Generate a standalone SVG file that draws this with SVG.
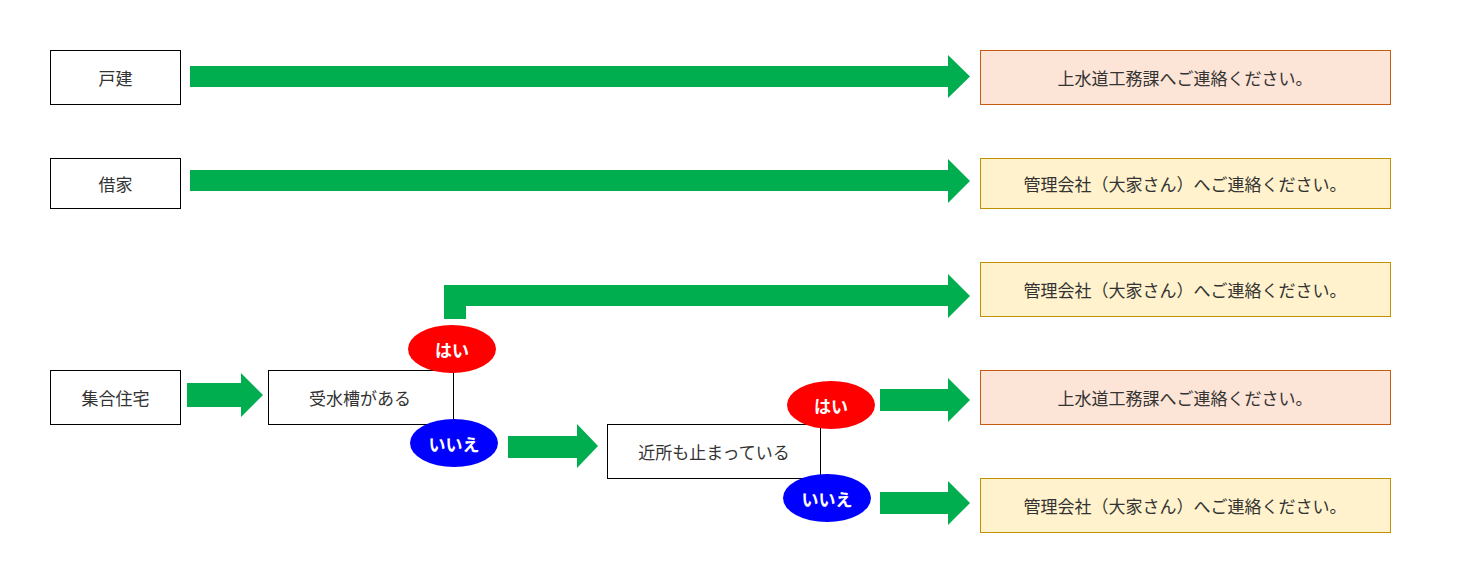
<svg xmlns="http://www.w3.org/2000/svg" width="1479" height="583" viewBox="0 0 1479 583">
<style>
.b{fill:#fff;stroke:#000;stroke-width:1}
.p{fill:#FCE4D6;stroke:#C55A11;stroke-width:1}
.y{fill:#FFF2CC;stroke:#BF9000;stroke-width:1}
.a{fill:#00AE4F}
text{font-family:"Noto Sans CJK JP",sans-serif;font-size:17px;fill:#333;text-anchor:middle;dominant-baseline:central}
.w{fill:#fff;font-weight:bold}
</style>
<rect width="1479" height="583" fill="#fff"/>
<g id="connectors">
<polygon class="a" points="190,66 948,66 948,55 970,76.5 948,98 948,87 190,87"/>
<polygon class="a" points="190,170 948,170 948,159 970,181 948,203 948,191 190,191"/>
<polygon class="a" points="444,319 444,285 948,285 948,274 970,296 948,318 948,306 466,306 466,319"/>
<polygon class="a" points="187,383 241,383 241,373 263,395 241,417 241,407 187,407"/>
<polygon class="a" points="508,436 577,436 577,424 598,446 577,468 577,458 508,458"/>
<polygon class="a" points="880,389 948,389 948,378 970,400 948,422 948,411 880,411"/>
<polygon class="a" points="880,492 948,492 948,481 970,503 948,525 948,514 880,514"/>
</g>
<g id="n1"><rect class="b" x="50.5" y="50.5" width="130" height="54"/><text x="115.5" y="77">戸建</text></g>
<g id="n2"><rect class="b" x="50.5" y="158.5" width="130" height="50"/><text x="115.5" y="183">借家</text></g>
<g id="n3"><rect class="b" x="50.5" y="370.5" width="130" height="54"/><text x="115.5" y="397">集合住宅</text></g>
<g id="n4"><rect class="b" x="268.5" y="370.5" width="185" height="54"/><text x="360" y="397">受水槽がある</text></g>
<g id="n5"><rect class="b" x="607.5" y="424.5" width="213" height="54"/><text x="714" y="451">近所も止まっている</text></g>
<g id="r1"><rect class="p" x="980.5" y="50.5" width="410" height="54"/><text x="1185" y="77">上水道工務課へご連絡ください。</text></g>
<g id="r2"><rect class="y" x="980.5" y="158.5" width="410" height="50"/><text x="1185" y="183">管理会社（大家さん）へご連絡ください。</text></g>
<g id="r3"><rect class="y" x="980.5" y="262.5" width="410" height="54"/><text x="1185" y="289">管理会社（大家さん）へご連絡ください。</text></g>
<g id="r4"><rect class="p" x="980.5" y="370.5" width="410" height="54"/><text x="1185" y="397">上水道工務課へご連絡ください。</text></g>
<g id="r5"><rect class="y" x="980.5" y="478.5" width="410" height="54"/><text x="1185" y="505">管理会社（大家さん）へご連絡ください。</text></g>
<g id="y1"><ellipse cx="452" cy="349" rx="44" ry="24" fill="#f00"/><text class="w" x="452" y="349">はい</text></g>
<g id="n1b"><ellipse cx="454" cy="443" rx="44" ry="24" fill="#00f"/><text class="w" x="454" y="443">いいえ</text></g>
<g id="y2"><ellipse cx="831" cy="405" rx="44" ry="24" fill="#f00"/><text class="w" x="831" y="405">はい</text></g>
<g id="n2b"><ellipse cx="827" cy="498" rx="44" ry="24" fill="#00f"/><text class="w" x="827" y="498">いいえ</text></g>
</svg>
